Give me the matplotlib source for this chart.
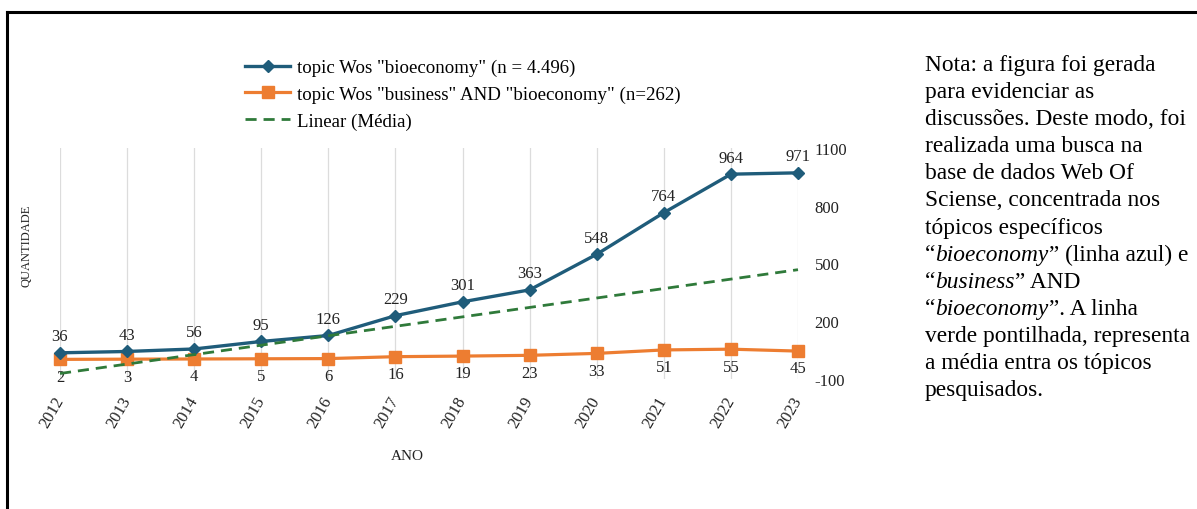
import numpy as np
import matplotlib.pyplot as plt
from matplotlib.lines import Line2D

plt.rcParams['font.family'] = ['Liberation Serif', 'DejaVu Serif']
plt.rcParams['axes.unicode_minus'] = False

# dados da busca na Web of Science
anos = ['2012', '2013', '2014', '2015', '2016', '2017',
        '2018', '2019', '2020', '2021', '2022', '2023']
bioeconomy = [36, 43, 56, 95, 126, 229, 301, 363, 548, 764, 964, 971]
business = [2, 3, 4, 5, 6, 16, 19, 23, 33, 51, 55, 45]
yticks = [-100, 200, 500, 800, 1100]

rotulos = ['topic Wos "bioeconomy" (n = 4.496)',
           'topic Wos "business" AND "bioeconomy" (n=262)',
           'Linear (Média)']

# tendência linear da média entre os dois tópicos
x = np.arange(len(anos))
media = (np.array(bioeconomy) + np.array(business)) / 2
coef = np.polyfit(x, media, 1)
tendencia = np.polyval(coef, x)

AZUL = '#1f5c7a'
LARANJA = '#ed7d31'
VERDE = '#2f7a3a'

W, H = 1197, 510
fig = plt.figure(figsize=(W / 100, H / 100), dpi=100)
ax = fig.add_axes([60 / W, 1 - 380 / H, 738 / W, 231 / H])

l_bus, = ax.plot(x, business, color=LARANJA, lw=2.3, marker='s', ms=8,
                 clip_on=False, zorder=3)
l_bio, = ax.plot(x, bioeconomy, color=AZUL, lw=2.4, marker='D', ms=6,
                 clip_on=False, zorder=4)
l_lin, = ax.plot(x, tendencia, color=VERDE, lw=2, ls=(0, (4, 2.5)),
                 clip_on=False, zorder=5)

for i, v in enumerate(bioeconomy):
    ax.annotate(str(v), (i, v), xytext=(0, 12), textcoords='offset points',
                ha='center', va='center', fontsize=12, color='#222222')
for i, v in enumerate(business):
    ax.annotate(str(v), (i, v), xytext=(0, -12.5), textcoords='offset points',
                ha='center', va='center', fontsize=12, color='#222222')

ax.set_xlim(0, len(anos) - 1)
ax.set_ylim(-100, 1100)
ax.set_xticks(x, anos, rotation=60, ha='right', va='center',
              rotation_mode='anchor', fontsize=12, color='#222222')
ax.tick_params(axis='x', length=0, pad=13)
ax.yaxis.tick_right()
ax.set_yticks(yticks)
ax.tick_params(axis='y', length=0, pad=12, labelsize=12, labelcolor='#222222')
ax.grid(axis='x', color='#dcdcdc', lw=0.9)
ax.grid(axis='y', visible=False)
ax.set_axisbelow(True)
for s in ax.spines.values():
    s.set_visible(False)

ax.set_xlabel('ANO', fontsize=11, color='#222222')
ax.xaxis.set_label_coords((407 - 60) / 738, (380 - 450) / 231)
ax.set_ylabel('QUANTIDADE', fontsize=9, color='#222222')
ax.yaxis.set_label_position('left')
ax.yaxis.set_label_coords((33 - 60) / 738, (380 - 246) / 231)

fig.legend([l_bio, l_bus, l_lin], rotulos, loc='upper left',
           bbox_to_anchor=(245 / W, 1 - 60 / H), frameon=False,
           fontsize=13.6, handlelength=2.4, handletextpad=0.35,
           labelspacing=0.5, borderpad=0, borderaxespad=0)

# moldura (topo e lateral esquerda)
fig.add_artist(Line2D([7 / W, 1], [1 - 13 / H, 1 - 13 / H], color='black',
                      lw=2.2, transform=fig.transFigure))
fig.add_artist(Line2D([7 / W, 7 / W], [1 - 13 / H, 0], color='black',
                      lw=2.2, transform=fig.transFigure))

# nota lateral, com trechos em itálico
nota = [
    [('Nota: a figura foi gerada', 'normal')],
    [('para evidenciar as', 'normal')],
    [('discussões. Deste modo, foi', 'normal')],
    [('realizada uma busca na', 'normal')],
    [('base de dados Web Of', 'normal')],
    [('Sciense, concentrada nos', 'normal')],
    [('tópicos específicos', 'normal')],
    [('“', 'normal'), ('bioeconomy', 'italic'), ('” (linha azul) e', 'normal')],
    [('“', 'normal'), ('business', 'italic'), ('” AND', 'normal')],
    [('“', 'normal'), ('bioeconomy', 'italic'), ('”. A linha', 'normal')],
    [('verde pontilhada, representa', 'normal')],
    [('a média entra os tópicos', 'normal')],
    [('pesquisados.', 'normal')],
]

renderer = fig.canvas.get_renderer()
for k, partes in enumerate(nota):
    xp = 925
    yp = 71 + k * 27.1
    for texto, estilo in partes:
        t = fig.text(xp / W, 1 - yp / H, texto, fontsize=16.8, style=estilo,
                     va='baseline', ha='left', color='black')
        xp += t.get_window_extent(renderer).width

fig.savefig('out.png', dpi=100, facecolor='white')
